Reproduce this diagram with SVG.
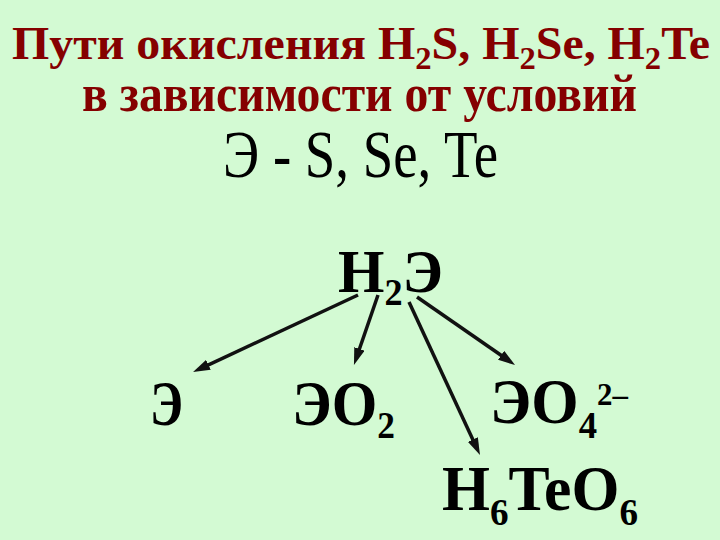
<svg xmlns="http://www.w3.org/2000/svg" width="720" height="540" viewBox="0 0 720 540">
  <style>
    .title { font-family: "Liberation Serif", "Times New Roman", serif; font-weight: bold; fill: #850000; }
    .sub3 { font-family: "Liberation Serif", "Times New Roman", serif; fill: #000000; }
    .chem { font-family: "Liberation Serif", "Times New Roman", serif; font-weight: bold; fill: #000000; }
    .conn { stroke: #111111; stroke-width: 3.5; fill: none; marker-end: url(#arrow); }
  </style>
  <defs>
    <marker id="arrow" markerUnits="userSpaceOnUse" markerWidth="18" markerHeight="11" refX="7" refY="5.5" orient="auto">
      <path d="M0,0 L17,5.5 L0,11 Z" fill="#111111"/>
    </marker>
  </defs>
  <rect x="0" y="0" width="720" height="540" fill="#d3fad3"/>

  <g id="title">
    <text class="title" x="12" y="59" font-size="47" textLength="698" lengthAdjust="spacingAndGlyphs">Пути окисления H<tspan font-size="32" dy="10">2</tspan><tspan dy="-10">S, H</tspan><tspan font-size="32" dy="10">2</tspan><tspan dy="-10">Se, H</tspan><tspan font-size="32" dy="10">2</tspan><tspan dy="-10">Te</tspan></text>
    <text class="title" x="82" y="111" font-size="52" textLength="555" lengthAdjust="spacingAndGlyphs">в зависимости от условий</text>
    <text class="sub3" x="223" y="177" font-size="68" textLength="275" lengthAdjust="spacingAndGlyphs">Э - S, Se, Te</text>
  </g>

  <g id="connectors">
    <line class="conn" x1="358" y1="295" x2="202.1" y2="367.8"/>
    <line class="conn" x1="378" y1="295" x2="357.2" y2="355.5"/>
    <line class="conn" x1="409" y1="302" x2="475.8" y2="445.9"/>
    <line class="conn" x1="417" y1="297" x2="506.8" y2="359.3"/>
  </g>

  <g id="node-H2E">
    <text class="chem" x="338" y="292" font-size="61" textLength="105" lengthAdjust="spacingAndGlyphs">H<tspan font-size="37" dy="13">2</tspan><tspan dy="-13">Э</tspan></text>
  </g>
  <g id="node-E">
    <text class="chem" x="150" y="425" font-size="63" textLength="33" lengthAdjust="spacingAndGlyphs">Э</text>
  </g>
  <g id="node-EO2">
    <text class="chem" x="292" y="425" font-size="63" textLength="103" lengthAdjust="spacingAndGlyphs">ЭO<tspan font-size="38" dy="13">2</tspan></text>
  </g>
  <g id="node-EO4">
    <text class="chem" x="490" y="423" font-size="63" textLength="138" lengthAdjust="spacingAndGlyphs">ЭO<tspan font-size="38" dy="15">4</tspan><tspan font-size="32" dy="-33">2–</tspan></text>
  </g>
  <g id="node-H6TeO6">
    <text class="chem" x="442" y="510" font-size="63" textLength="196" lengthAdjust="spacingAndGlyphs">H<tspan font-size="38" dy="15">6</tspan><tspan dy="-15">TeO</tspan><tspan font-size="38" dy="15">6</tspan></text>
  </g>
</svg>
